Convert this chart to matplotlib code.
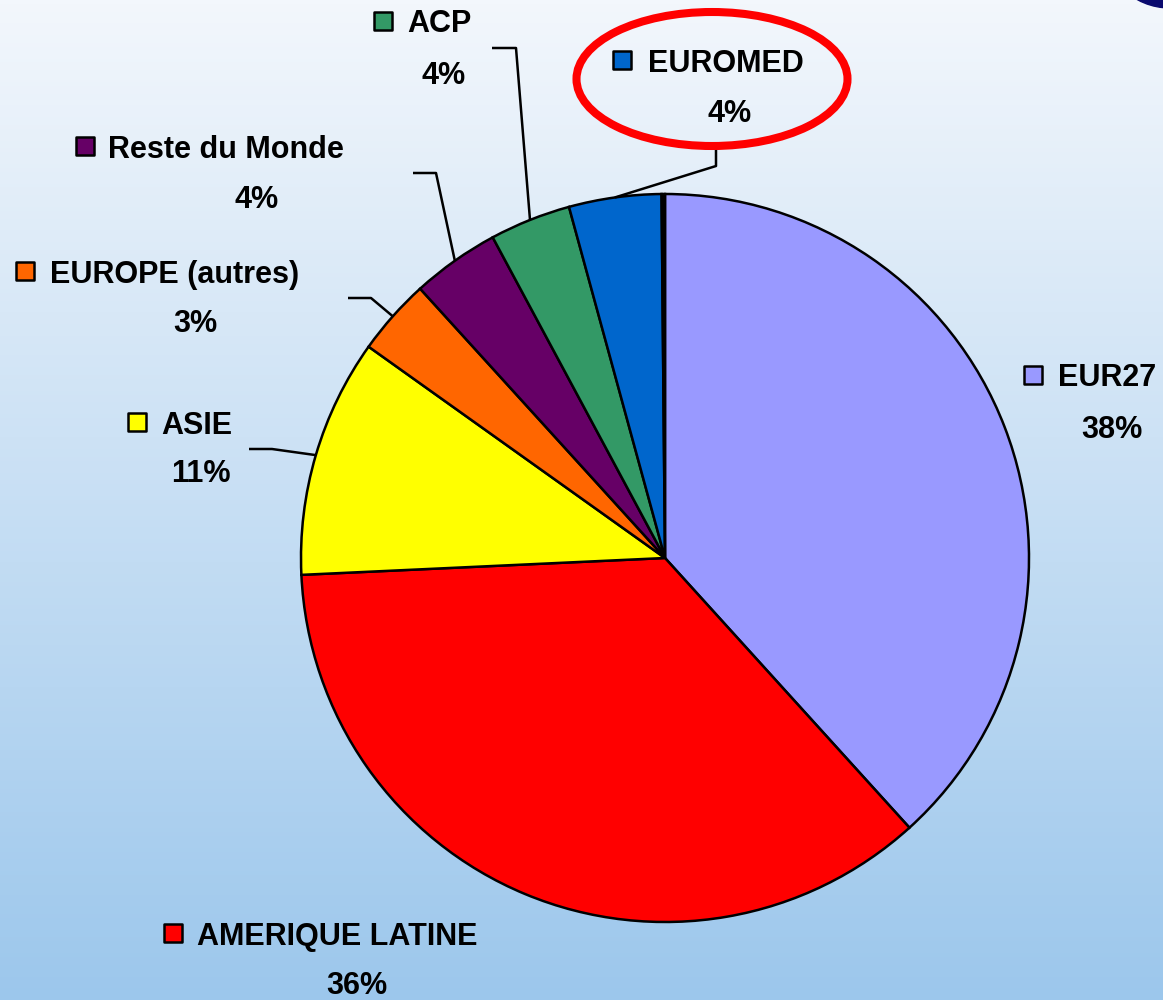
"""
Pie chart of the regional breakdown, with leader lines and a red ellipse
highlighting the EUROMED share.
"""

import numpy as np
import matplotlib
matplotlib.use("Agg")
import matplotlib.pyplot as plt
from matplotlib.patches import Ellipse, Circle


# -----------------------------
# 1. Data
# -----------------------------

REGIONS = ["EUR27", "AMERIQUE LATINE", "ASIE", "EUROPE (autres)",
           "Reste du Monde", "ACP", "EUROMED"]
SHARES = [38.3, 36.0, 10.6, 3.4, 3.9, 3.6, 4.1]
# very thin unlabeled sliver between EUROMED and EUR27
SLIVER_SHARE = 0.15

COLORS = ["#9999FF", "#FF0000", "#FFFF00", "#FF6600",
          "#660066", "#339966", "#0066CC"]

# -----------------------------
# 2. Layout (pixels, measured from top-left of the picture)
# -----------------------------

W, H = 1163, 1000
CENTER = (665, 558)
RADIUS = 364

# key square centre, name left x, percent centre
LABEL_POS = {
    "EUR27": ((1033, 375), 1058, (1112, 426)),
    "AMERIQUE LATINE": ((173, 933), 197, (357, 983)),
    "ASIE": ((137, 422), 161, (201, 470)),
    "EUROPE (autres)": ((25, 271), 50, (195, 321)),
    "Reste du Monde": ((85, 146), 108, (257, 196)),
    "ACP": ((383, 21), 407, (444, 72)),
    "EUROMED": ((622, 60), 648, (730, 110)),
}

# leader lines: kink point then end point
LEADERS = {
    "EUROMED": [(716, 166), (716, 143)],
    "ACP": [(516, 48), (492, 48)],
    "Reste du Monde": [(436, 173), (413, 173)],
    "EUROPE (autres)": [(371, 298), (348, 298)],
    "ASIE": [(272, 449), (249, 449)],
}

FONT = "Liberation Sans"


def px(x, y):
    """Convert top-based pixel coordinates to axes data coordinates."""
    return x, H - y


def main():
    fig = plt.figure(figsize=(W / 100, H / 100), dpi=100)
    ax = fig.add_axes([0, 0, 1, 1])

    # background gradient
    top = np.array([243, 247, 252]) / 255
    bottom = np.array([156, 199, 236]) / 255
    t = np.linspace(0, 1, 256)[:, None]
    grad = (top[None, :] * (1 - t) + bottom[None, :] * t)[:, None, :]
    ax.imshow(grad, extent=(0, W, 0, H), aspect="auto", zorder=0)

    values = SHARES + [SLIVER_SHARE]
    colors = COLORS + ["#000000"]
    wedges, _ = ax.pie(
        values,
        colors=colors,
        startangle=90,
        counterclock=False,
        center=px(*CENTER),
        radius=RADIUS,
        frame=True,
        wedgeprops={"edgecolor": "black", "linewidth": 1.8},
    )
    for w in wedges:
        w.set_zorder(2)

    cx, cy = px(*CENTER)
    for region, share, wedge in zip(REGIONS, SHARES, wedges):
        key, name_x, pct = LABEL_POS[region]
        kx, ky = px(*key)
        ax.scatter([kx], [ky], marker="s", s=150, color=wedge.get_facecolor(),
                   edgecolors="black", linewidths=1.8, zorder=5)
        ax.text(name_x, ky, region, ha="left", va="center_baseline",
                fontsize=22, fontweight="bold", family=FONT, zorder=5)
        ax.text(*px(*pct), f"{share:.0f}%", ha="center", va="center_baseline",
                fontsize=22, fontweight="bold", family=FONT, zorder=5)

        if region in LEADERS:
            mid = np.deg2rad((wedge.theta1 + wedge.theta2) / 2)
            sx = cx + RADIUS * np.cos(mid)
            sy = cy + RADIUS * np.sin(mid)
            pts = [(sx, sy)] + [px(*p) for p in LEADERS[region]]
            xs, ys = zip(*pts)
            ax.plot(xs, ys, color="black", linewidth=1.8, zorder=4,
                    solid_capstyle="butt")

    # red highlight ellipse around the EUROMED label
    ax.add_patch(Ellipse(px(712, 79), 271, 134, fill=False,
                         edgecolor="#FF0000", linewidth=5.8, zorder=6))

    # dark navy decoration in the top-right corner
    ax.add_patch(Circle(px(1170, -60), 68, color="#0A0A6E", zorder=1))

    ax.set_xlim(0, W)
    ax.set_ylim(0, H)
    ax.set_aspect("auto")
    ax.axis("off")

    fig.savefig("out.png", dpi=100)
    plt.close(fig)


if __name__ == "__main__":
    main()
